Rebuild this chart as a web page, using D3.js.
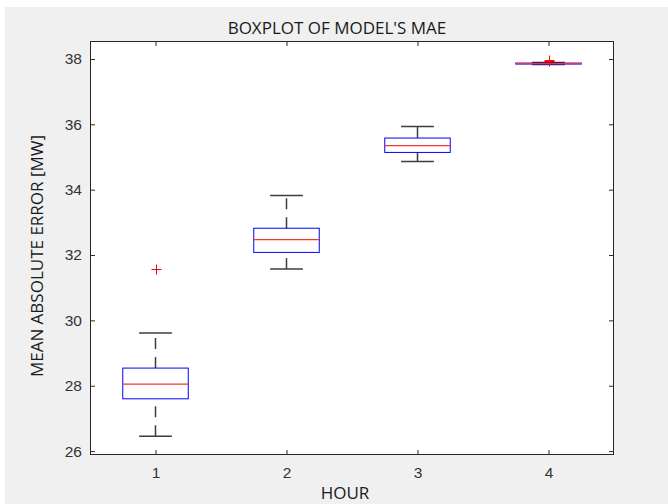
<!DOCTYPE html>
<html>
<head>
<meta charset="utf-8">
<script src="https://cdn.jsdelivr.net/npm/d3@7"></script>
<style>
  body { margin: 0; background: #fff; }
  svg { display: block; }
</style>
</head>
<body>
<div class="chart"></div>
<script>
// data
var hours = [1, 2, 3, 4];
var whiskerLow = [26.45, 31.57, 34.86, 37.83];
var q1 = [27.6, 32.08, 35.14, 37.845];
var medians = [28.05, 32.47, 35.35, 37.86];
var q3 = [28.54, 32.82, 35.58, 37.875];
var whiskerHigh = [29.61, 33.82, 35.93, 37.89];
var outliers = [[31.56], [], [], [37.97, 37.93]];
var yTicks = [26, 28, 30, 32, 34, 36, 38];

var W = 668, H = 504;
var axLeft = 90, axRight = 614, axTop = 41, axBottom = 455;

var svg = d3.select(".chart").append("svg")
  .attr("width", W)
  .attr("height", H);

// gray figure background
svg.append("rect")
  .attr("x", 5).attr("y", 7)
  .attr("width", W - 5).attr("height", H - 7)
  .style("fill", "#f0f0f0");

var x = d3.scaleLinear().domain([0.5, 4.5]).range([axLeft, axRight]);
var y = d3.scaleLinear().domain([25.88, 38.55]).range([axBottom, axTop]);

// axes area
svg.append("rect")
  .attr("x", axLeft).attr("y", axTop)
  .attr("width", axRight - axLeft).attr("height", axBottom - axTop)
  .style("fill", "#fff");

var axisColor = "#262626";
var tickFont = "Liberation Sans, Arial, sans-serif";

function styleAxis(g) {
  g.select(".domain").remove();
  g.selectAll(".tick line").style("stroke", axisColor).style("stroke-width", 1);
  g.selectAll(".tick text")
    .style("fill", "#333")
    .style("font-family", tickFont)
    .style("font-size", "15.5px");
}

svg.append("g")
  .attr("transform", "translate(" + axLeft + ",0)")
  .call(d3.axisLeft(y).tickValues(yTicks).tickFormat(d3.format("d")).tickSizeInner(-5).tickSizeOuter(0).tickPadding(8))
  .call(styleAxis);

svg.append("g")
  .attr("transform", "translate(" + axRight + ",0)")
  .call(d3.axisRight(y).tickValues(yTicks).tickSizeInner(-5).tickSizeOuter(0).tickFormat(""))
  .call(styleAxis);

svg.append("g")
  .attr("transform", "translate(0," + axBottom + ")")
  .call(d3.axisBottom(x).tickValues(hours).tickFormat(d3.format("d")).tickSizeInner(-5).tickSizeOuter(0).tickPadding(12))
  .call(styleAxis);

svg.append("g")
  .attr("transform", "translate(0," + axTop + ")")
  .call(d3.axisTop(x).tickValues(hours).tickSizeInner(-5).tickSizeOuter(0).tickFormat(""))
  .call(styleAxis);

svg.append("rect")
  .attr("x", axLeft + 0.5).attr("y", axTop + 0.5)
  .attr("width", axRight - axLeft - 1).attr("height", axBottom - axTop - 1)
  .style("fill", "none")
  .style("stroke", axisColor)
  .style("stroke-width", 1);

// boxes
var boxes = svg.append("g");
var boxHalf = 0.25, capHalf = 0.125;
var whiskerColor = "#3c3c3c";

hours.forEach(function (h, i) {
  var g = boxes.append("g");
  // whiskers
  g.append("line")
    .attr("x1", x(h)).attr("x2", x(h))
    .attr("y1", y(q3[i])).attr("y2", y(whiskerHigh[i]))
    .style("stroke", whiskerColor).style("stroke-width", 1.5)
    .style("stroke-dasharray", "11,8");
  g.append("line")
    .attr("x1", x(h)).attr("x2", x(h))
    .attr("y1", y(whiskerLow[i])).attr("y2", y(q1[i]))
    .style("stroke", whiskerColor).style("stroke-width", 1.5)
    .style("stroke-dasharray", "11,8");
  [whiskerLow[i], whiskerHigh[i]].forEach(function (v) {
    g.append("line")
      .attr("x1", x(h - capHalf)).attr("x2", x(h + capHalf))
      .attr("y1", y(v)).attr("y2", y(v))
      .style("stroke", whiskerColor).style("stroke-width", 1.5);
  });
  // box
  g.append("rect")
    .attr("x", x(h - boxHalf)).attr("y", y(q3[i]))
    .attr("width", x(h + boxHalf) - x(h - boxHalf))
    .attr("height", Math.max(0.5, y(q1[i]) - y(q3[i])))
    .style("fill", "none")
    .style("stroke", "#0000ff")
    .style("stroke-width", 1);
  // median
  g.append("line")
    .attr("x1", x(h - boxHalf)).attr("x2", x(h + boxHalf))
    .attr("y1", y(medians[i])).attr("y2", y(medians[i]))
    .style("stroke", "#ff3030").style("stroke-width", 1.2);
  // outliers
  outliers[i].forEach(function (v) {
    var cx = Math.round(x(h)) + 0.5, cy = Math.round(y(v)) + 0.5, s = 5;
    g.append("path")
      .attr("d", "M" + (cx - s) + "," + cy + "H" + (cx + s) + "M" + cx + "," + (cy - s) + "V" + (cy + s))
      .style("stroke", "#ff0000").style("stroke-width", 1).style("fill", "none");
  });
});

// labels
var labelFont = "'Open Sans', 'Noto Sans', sans-serif";
svg.append("text")
  .attr("x", 337).attr("y", 34)
  .attr("text-anchor", "middle")
  .style("font-family", labelFont).style("font-size", "17px").style("fill", "#1a1a1a")
  .text("BOXPLOT OF MODEL'S MAE");

svg.append("text")
  .attr("x", 345).attr("y", 499)
  .attr("text-anchor", "middle")
  .style("font-family", labelFont).style("font-size", "17px").style("fill", "#1a1a1a")
  .text("HOUR");

svg.append("text")
  .attr("transform", "translate(43,256) rotate(-90)")
  .attr("text-anchor", "middle")
  .style("font-family", labelFont).style("font-size", "17px").style("fill", "#1a1a1a")
  .text("MEAN ABSOLUTE ERROR [MW]");
</script>
</body>
</html>
